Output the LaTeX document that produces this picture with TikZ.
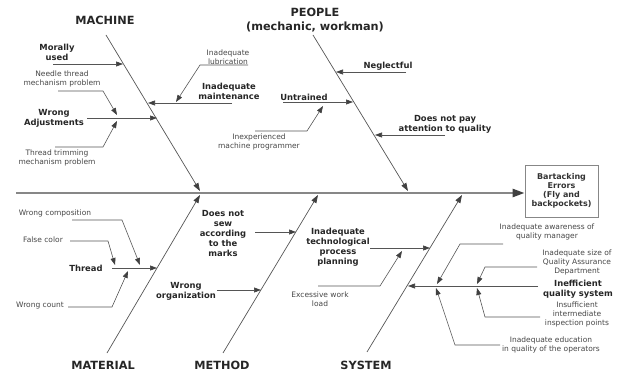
\documentclass[tikz,border=0pt]{standalone}
\usepackage{fontspec}
\setmainfont{DejaVu Sans}
\usepackage{tikz}
\usetikzlibrary{arrows.meta, positioning}

\definecolor{bonegray}{RGB}{85,85,85}
\definecolor{spinegray}{RGB}{135,135,135}
\definecolor{txtgray}{RGB}{70,70,70}

\tikzset{
  headtext/.style={font=\fontsize{11.3}{14}\selectfont\bfseries, text=black!85, align=center, inner sep=0pt},
  causetext/.style={font=\fontsize{8.4}{10}\selectfont\bfseries, text=black!85, align=center, inner sep=0pt},
  subtext/.style={font=\fontsize{7.5}{9}\selectfont, text=txtgray, align=center, inner sep=0pt},
  bone/.style={draw=bonegray, line width=0.7pt, -{Triangle[length=8pt,width=5.5pt,color=black!75]}},
  branch/.style={draw=bonegray, line width=0.6pt, -{Triangle[length=7pt,width=5pt,color=black!75]}},
}

\begin{document}
\begin{tikzpicture}[x=1pt, y=-1pt]
\useasboundingbox (0,0) rectangle (621,374);

% effect and spine
\node[draw=spinegray, line width=0.8pt, minimum width=73pt, minimum height=52pt,
      font=\fontsize{8}{9}\selectfont\bfseries, text=black!80, align=center] (effect) at (561.5,191)
  {Bartacking\\Errors\\(Fly and\\backpockets)};
\coordinate (tail) at (16,193);
\draw[draw=spinegray, line width=2.4pt, -{Triangle[length=12pt,width=8pt,color=black!75]}] (tail) -- (tail -| effect.west);

% bones
\node[headtext] (machine) at (105,20) {MACHINE};
\node[headtext] (people) at (315,20) {PEOPLE\\(mechanic, workman)};
\node[headtext] (material) at (103,365) {MATERIAL};
\node[headtext] (method) at (222,365) {METHOD};
\node[headtext] (system) at (366,365) {SYSTEM};

\foreach \n/\x/\y in {mach-a/106/35, mach-b/200/191, peop-a/313/35, peop-b/408/191,
                      mat-a/107/353, mat-b/200/195, meth-a/223/353, meth-b/318/195,
                      sys-a/367/352, sys-b/462/195}
  \coordinate (\n) at (\x,\y);

\foreach \b in {mach, peop, mat, meth, sys}
  \draw[bone] (\b-a) -- (\b-b);

% machine
\node[causetext] (morally) at (57,52) {Morally\\used};
\node[causetext] (maint) at (229,91) {Inadequate\\maintenance};
\node[subtext] (lubric) at (228,57) {Inadequate\\lubrication};
\node[subtext] (needle) at (62,79) {Needle thread\\mechanism problem};
\node[causetext] (wadjust) at (54,118) {Wrong\\Adjustments};
\node[subtext] (trimming) at (57,158) {Thread trimming\\mechanism problem};

\foreach \n/\x/\y in {mor-s/53/64, mor-t/123/64, mnt-s/232/103, mnt-t/148/103,
                      lub-s/248/65, lub-k/200/65, lub-t/176/102,
                      ndl-s/58/91, ndl-k/103/91, ndl-t/117/115,
                      adj-s/87/118, adj-t/157/118,
                      trm-s/55/147, trm-k/103/147, trm-t/117/121}
  \coordinate (\n) at (\x,\y);

\draw[branch] (mor-s) -- (mor-t);
\draw[branch] (mnt-s) -- (mnt-t);
\draw[branch] (lub-s) -- (lub-k) -- (lub-t);
\draw[branch] (ndl-s) -- (ndl-k) -- (ndl-t);
\draw[branch] (adj-s) -- (adj-t);
\draw[branch] (trm-s) -- (trm-k) -- (trm-t);

% people
\node[causetext] (neglect) at (388,66) {Neglectful};
\node[causetext] (untrained) at (304,97) {Untrained};
\node[subtext] (inexp) at (259,142) {Inexperienced\\machine programmer};
\node[causetext] (attention) at (445,124) {Does not pay\\attention to quality};

\foreach \n/\x/\y in {neg-s/406/72, neg-t/336/72, unt-s/283/102, unt-t/353/102,
                      inx-s/255/131, inx-k/307/131, inx-t/323/106,
                      att-s/445/135, att-t/375/135}
  \coordinate (\n) at (\x,\y);

\draw[branch] (neg-s) -- (neg-t);
\draw[branch] (unt-s) -- (unt-t);
\draw[branch] (inx-s) -- (inx-k) -- (inx-t);
\draw[branch] (att-s) -- (att-t);

% material
\node[causetext] (thread) at (86,268) {Thread};
\node[subtext] (wcomp) at (55,213) {Wrong composition};
\node[subtext] (fcolor) at (43,240) {False color};
\node[subtext] (wcount) at (40,306) {Wrong count};

\foreach \n/\x/\y in {thr-s/112/268, thr-t/157/268,
                      cmp-s/72/220, cmp-k/122/220, cmp-t/140/265,
                      col-s/70/241, col-k/108/241, col-t/115/265,
                      cnt-s/68/307, cnt-k/112/307, cnt-t/128/271}
  \coordinate (\n) at (\x,\y);

\draw[branch] (thr-s) -- (thr-t);
\draw[branch] (cmp-s) -- (cmp-k) -- (cmp-t);
\draw[branch] (col-s) -- (col-k) -- (col-t);
\draw[branch] (cnt-s) -- (cnt-k) -- (cnt-t);

% method
\node[causetext] (marks) at (223,233) {Does not\\sew\\according\\to the\\marks};
\node[causetext] (worg) at (186,291) {Wrong\\organization};

\foreach \n/\x/\y in {mrk-s/255/232, mrk-t/296/232, org-s/217/290, org-t/261/290}
  \coordinate (\n) at (\x,\y);

\draw[branch] (mrk-s) -- (mrk-t);
\draw[branch] (org-s) -- (org-t);

% system
\node[causetext] (techplan) at (338,247) {Inadequate\\technological\\process\\planning};
\node[subtext] (excess) at (320,299) {Excessive work\\load};
\node[causetext] (qsystem) at (578,289) {Inefficient\\quality system};
\node[subtext] (aware) at (547,232) {Inadequate awareness of\\quality manager};
\node[subtext] (qasize) at (577,262) {Inadequate size of\\Quality Assurance\\Department};
\node[subtext] (insuff) at (577,314) {Insufficient\\intermediate\\inspection points};
\node[subtext] (educ) at (551,345) {Inadequate education\\in quality of the operators};

\foreach \n/\x/\y in {tec-s/370/248, tec-t/430/248,
                      exc-s/318/286, exc-k/380/286, exc-t/402/251,
                      qsy-s/538/286, qsy-t/408/286,
                      awr-s/503/244, awr-k/460/244, awr-t/437/284,
                      siz-s/537/267, siz-k/485/267, siz-t/477/284,
                      ins-s/540/317, ins-k/485/317, ins-t/477/288,
                      edu-s/500/345, edu-k/455/345, edu-t/436/288}
  \coordinate (\n) at (\x,\y);

\draw[branch] (tec-s) -- (tec-t);
\draw[branch] (exc-s) -- (exc-k) -- (exc-t);
\draw[branch] (qsy-s) -- (qsy-t);
\draw[branch] (awr-s) -- (awr-k) -- (awr-t);
\draw[branch] (siz-s) -- (siz-k) -- (siz-t);
\draw[branch] (ins-s) -- (ins-k) -- (ins-t);
\draw[branch] (edu-s) -- (edu-k) -- (edu-t);

\end{tikzpicture}
\end{document}
